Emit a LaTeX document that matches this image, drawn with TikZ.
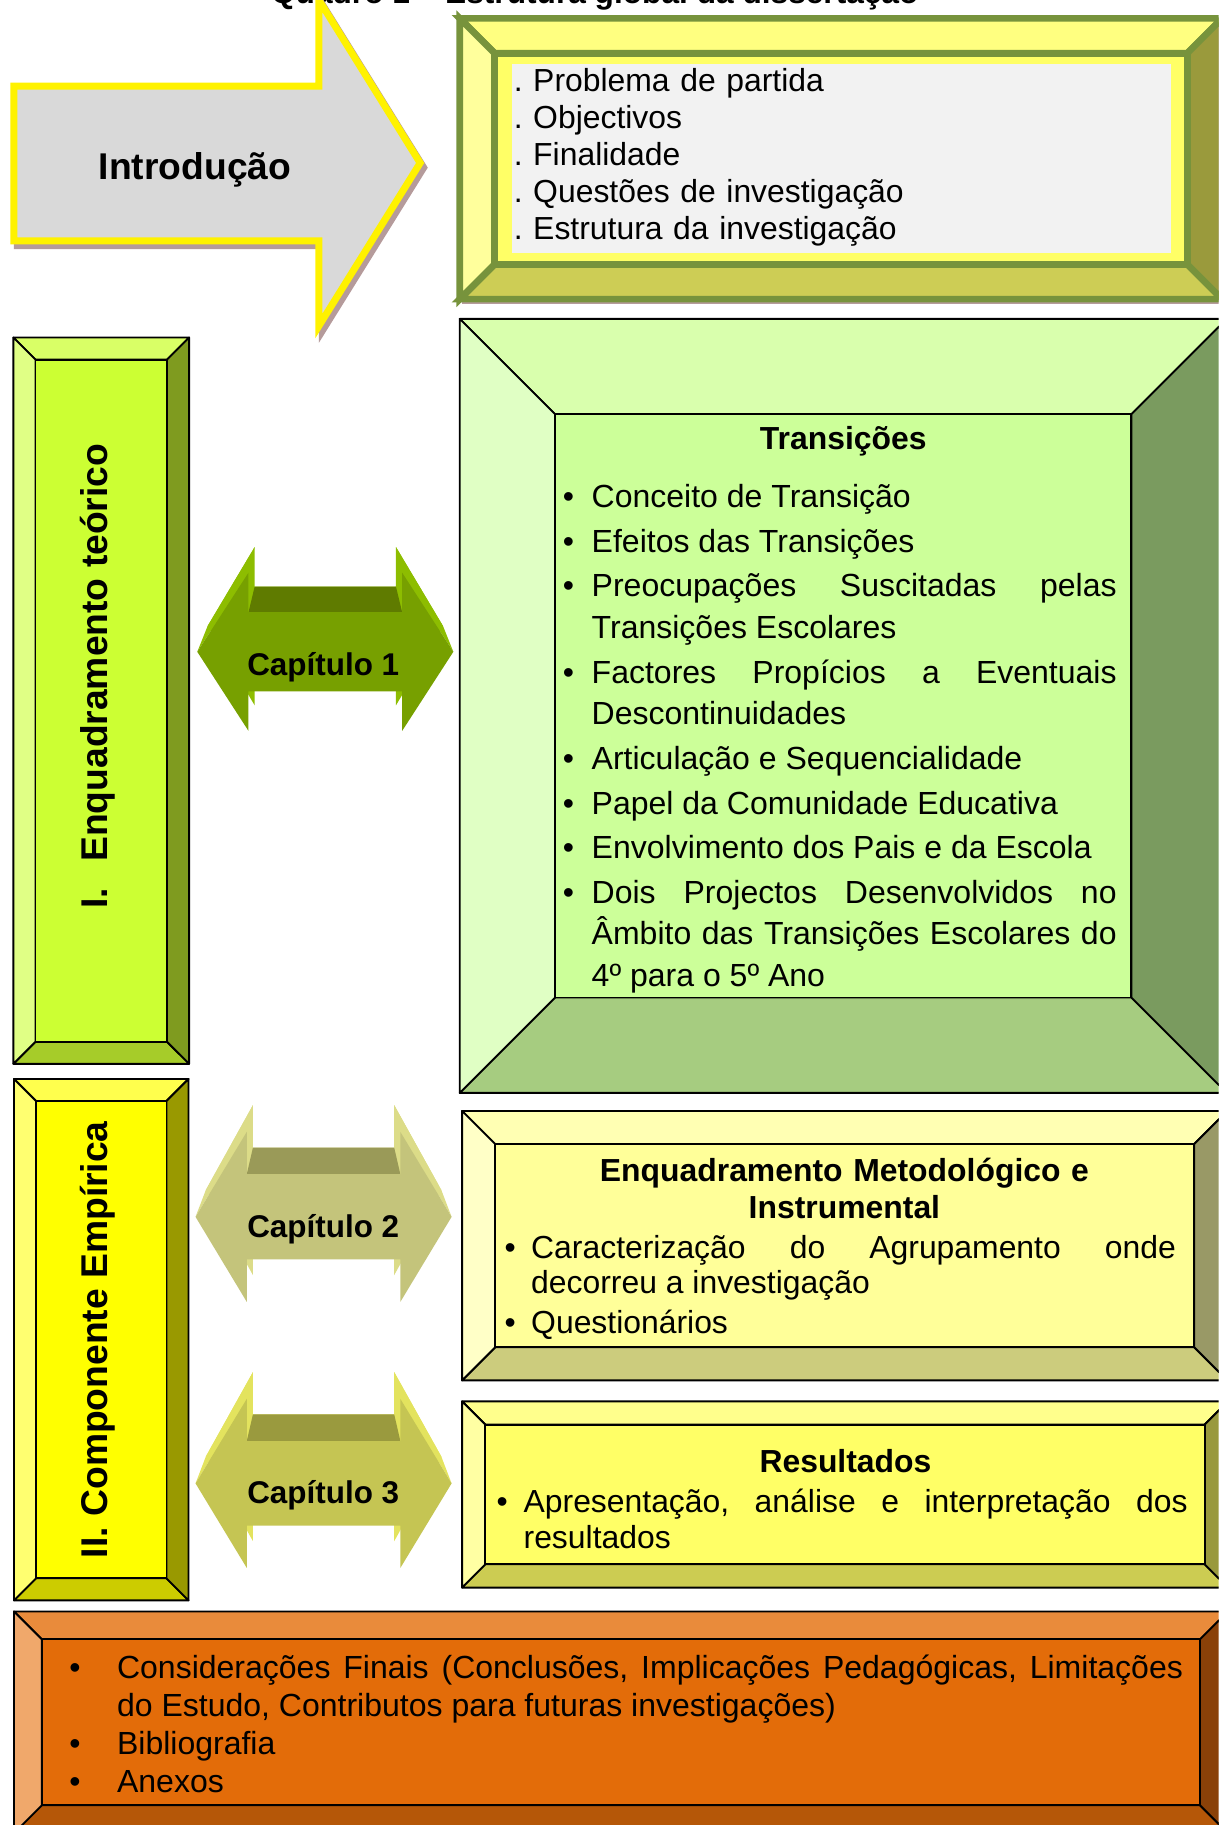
\documentclass[tikz,border=0pt]{standalone}
\usepackage{fontspec}
\setmainfont{Liberation Sans}
\hyphenpenalty=10000
\exhyphenpenalty=10000
\tolerance=9999
\frenchspacing

% frame colours (in, top, left, right, bot)
\definecolor{introin}{HTML}{FFFF66}
\definecolor{introtop}{HTML}{FFFF80}
\definecolor{introleft}{HTML}{FFFF9C}
\definecolor{introright}{HTML}{9A9A3C}
\definecolor{introbot}{HTML}{CDCD55}
\definecolor{introline}{HTML}{77933C}
\definecolor{introgray}{HTML}{F2F2F2}
\definecolor{teoin}{HTML}{CCFF33}
\definecolor{teotop}{HTML}{D9FF66}
\definecolor{teoleft}{HTML}{E0FF85}
\definecolor{teoright}{HTML}{7F9B1F}
\definecolor{teobot}{HTML}{A6CC29}
\definecolor{empin}{HTML}{FFFF00}
\definecolor{emptop}{HTML}{FFFF4D}
\definecolor{empleft}{HTML}{FFFF70}
\definecolor{empright}{HTML}{999900}
\definecolor{empbot}{HTML}{CCCC00}
\definecolor{tranin}{HTML}{CCFF99}
\definecolor{trantop}{HTML}{D9FFAD}
\definecolor{tranleft}{HTML}{E0FFC4}
\definecolor{tranright}{HTML}{7A9B5F}
\definecolor{tranbot}{HTML}{A6CC80}
\definecolor{metin}{HTML}{FFFF99}
\definecolor{mettop}{HTML}{FFFFB3}
\definecolor{metleft}{HTML}{FFFFC7}
\definecolor{metright}{HTML}{999966}
\definecolor{metbot}{HTML}{CCCC7D}
\definecolor{resin}{HTML}{FFFF66}
\definecolor{restop}{HTML}{FFFF8C}
\definecolor{resleft}{HTML}{FFFFA3}
\definecolor{resright}{HTML}{99993D}
\definecolor{resbot}{HTML}{CCCC52}
\definecolor{finin}{HTML}{E36C09}
\definecolor{fintop}{HTML}{E98B3B}
\definecolor{finleft}{HTML}{F0A86B}
\definecolor{finright}{HTML}{8A4108}
\definecolor{finbot}{HTML}{B55708}
% chapter arrows (front, dark, side)
\definecolor{caponefront}{HTML}{77A000}
\definecolor{caponedark}{HTML}{5F7B00}
\definecolor{caponeside}{HTML}{8DBD00}
\definecolor{captwofront}{HTML}{C4C47B}
\definecolor{captwodark}{HTML}{9A9A58}
\definecolor{captwoside}{HTML}{DCDC88}
\definecolor{capthreefront}{HTML}{C5C553}
\definecolor{capthreedark}{HTML}{9A9A3E}
\definecolor{capthreeside}{HTML}{E3E35E}
\definecolor{shadowbrown}{HTML}{B59B9B}
\definecolor{arrowgray}{HTML}{D9D9D9}

\tikzset{
  bevelline/.style={draw=black, line width=0.8pt, line join=round},
  introframe/.style={draw=introline, line width=2.85pt, line join=miter},
  introarrow/.style={draw=yellow, fill=arrowgray, line width=3pt, line join=miter},
  introshadow/.style={draw=shadowbrown, fill=shadowbrown, line width=3pt, line join=miter},
  partlabel/.style={rotate=90, anchor=base, inner sep=0pt, font=\fontsize{16pt}{19pt}\selectfont\bfseries},
  chaplabel/.style={anchor=base, inner sep=0pt, font=\fontsize{13.5pt}{16pt}\selectfont\bfseries},
  boxtitle/.style={anchor=base, inner sep=0pt, text width=300pt, align=center, font=\fontsize{13.7pt}{16pt}\selectfont\bfseries},
  boxlist/.style={anchor=base west, inner sep=0pt, align=justify},
}

% bevelled frame: colours, (x1,y1), (x2,y2), bevel
\newcommand{\bevelbox}[7][bevelline]{%
  \path[#1, fill=#2top] (#3,#4) -- (#5,#4) -- ({#5-#7},{#4+#7}) -- ({#3+#7},{#4+#7}) -- cycle;
  \path[#1, fill=#2bot] (#3,#6) -- (#5,#6) -- ({#5-#7},{#6-#7}) -- ({#3+#7},{#6-#7}) -- cycle;
  \path[#1, fill=#2left] (#3,#4) -- ({#3+#7},{#4+#7}) -- ({#3+#7},{#6-#7}) -- (#3,#6) -- cycle;
  \path[#1, fill=#2right] (#5,#4) -- ({#5-#7},{#4+#7}) -- ({#5-#7},{#6-#7}) -- (#5,#6) -- cycle;
  \path[#1, fill=#2in] ({#3+#7},{#4+#7}) rectangle ({#5-#7},{#6-#7});
}

% 3d double arrow: colours, (cx,cy), half shaft, depth
\newcommand{\chaparrow}[5]{%
  \fill[#1side] ({#2-101.2},{#3-#5}) -- ({#2-60.7},{#3-2*#4-#5}) -- ({#2-60.7},{#3-#4-#5})
    -- ({#2+60.7},{#3-#4-#5}) -- ({#2+60.7},{#3-2*#4-#5}) -- ({#2+101.2},{#3-#5})
    -- ({#2+60.7},{#3+2*#4-#5}) -- ({#2+60.7},{#3+#4-#5}) -- ({#2-60.7},{#3+#4-#5})
    -- ({#2-60.7},{#3+2*#4-#5}) -- cycle;
  \fill[#1side] ({#2-110},#3) -- ({#2-66},{#3-2*#4}) -- ({#2-60.7},{#3-2*#4-#5}) -- ({#2-101.2},{#3-#5}) -- cycle;
  \fill[#1side] ({#2+110},#3) -- ({#2+66},{#3-2*#4}) -- ({#2+60.7},{#3-2*#4-#5}) -- ({#2+101.2},{#3-#5}) -- cycle;
  \fill[#1dark] ({#2-66},{#3-#4}) -- ({#2+66},{#3-#4}) -- ({#2+60.7},{#3-#4-#5}) -- ({#2-60.7},{#3-#4-#5}) -- cycle;
  \fill[#1front] ({#2-110},#3) -- ({#2-66},{#3-2*#4}) -- ({#2-66},{#3-#4}) -- ({#2+66},{#3-#4})
    -- ({#2+66},{#3-2*#4}) -- ({#2+110},#3) -- ({#2+66},{#3+2*#4}) -- ({#2+66},{#3+#4})
    -- ({#2-66},{#3+#4}) -- ({#2-66},{#3+2*#4}) -- cycle;
}

\newcommand{\bul}[1]{\noindent\hangindent=#1\hangafter=1\makebox[#1][l]{\hspace{0.6pt}\textbullet}\ignorespaces}

\begin{document}
\begin{tikzpicture}[x=0.5pt, y=-0.5pt]
  \useasboundingbox (0,0) rectangle (1047,1568);
  \clip (0,0) rectangle (1047,1568);

  \node[anchor=base, inner sep=0pt, font=\fontsize{13.6pt}{16pt}\selectfont\bfseries] (quadro) at (511,3.4) {Quadro 1 – Estrutura global da dissertação};

  % Introducao
  \draw[introshadow, shift={(3,4)}] (12,74) -- (274,74) -- (274,0) -- (361,140) -- (274,280) -- (274,207) -- (12,207) -- cycle;
  \draw[introarrow] (12,74) -- (274,74) -- (274,0) -- (361,140) -- (274,280) -- (274,207) -- (12,207) -- cycle;
  \node[inner sep=0pt, anchor=base, font=\fontsize{16pt}{19pt}\selectfont\bfseries] (intro) at (167.5,154.6) {Introdução};

  \fill[shadowbrown] (397,20) rectangle (1060,261);
  \bevelbox[introframe]{intro}{395}{15.8}{1050}{257}{30}
  \fill[introgray] (439.5,55) rectangle (1006,217.6);
  \node[anchor=base west, inner sep=0pt, text width=300pt, align=left, font=\fontsize{13.7pt}{15.85pt}\selectfont] (introlist) at (441,78.7)
    {. Problema de partida\\. Objectivos\\. Finalidade\\. Questões de investigação\\. Estrutura da investigação};

  % parts
  \bevelbox{teo}{11.5}{290}{162.5}{914}{19}
  \node[partlabel] (teorico) at (92.2,580.9) {I.\hspace{0.7em}Enquadramento teórico};
  \bevelbox{emp}{12}{927}{162}{1375}{19}
  \node[partlabel] (empirica) at (92.2,1151) {II. Componente Empírica};

  % chapters
  \chaparrow{capone}{279.5}{560}{34}{22}
  \node[chaplabel] (cap1) at (277.7,580) {Capítulo 1};
  \chaparrow{captwo}{278}{1045.5}{36.5}{23}
  \node[chaplabel] (cap2) at (277.7,1063.5) {Capítulo 2};
  \chaparrow{capthree}{278}{1274.5}{36.3}{23}
  \node[chaplabel] (cap3) at (277.7,1292) {Capítulo 3};

  % Transicoes
  \bevelbox{tran}{395}{274}{1054}{939}{82}
  \node[boxtitle] (transicoes) at (724.5,386.6) {Transições};
  \node[boxlist, text width=238.5pt, font=\fontsize{13.75pt}{17.75pt}\selectfont] (temas) at (482,435.9)
    {\setlength{\parskip}{1.5pt}%
     \bul{13pt}Conceito de Transição\par
     \bul{13pt}Efeitos das Transições\par
     \bul{13pt}Preocupações Suscitadas pelas Transições Escolares\par
     \bul{13pt}Factores Propícios a Eventuais Descontinuidades\par
     \bul{13pt}Articulação e Sequencialidade\par
     \bul{13pt}Papel da Comunidade Educativa\par
     \bul{13pt}Envolvimento dos Pais e da Escola\par
     \bul{13pt}Dois Projectos Desenvolvidos no Âmbito das Transições Escolares do 4º para o 5º Ano\par};

  % Metodologia
  \bevelbox{met}{397}{954.5}{1054.5}{1186}{28.5}
  \node[boxtitle] (metodo) at (725.5,1014.7) {Enquadramento Metodológico e\\Instrumental};
  \node[boxlist, text width=289pt, font=\fontsize{13.7pt}{15.25pt}\selectfont] (inquerito) at (432,1081)
    {\setlength{\parskip}{1.9pt}%
     \bul{12pt}Caracterização do Agrupamento onde decorreu a investigação\par
     \bul{12pt}Questionários\par};

  % Resultados
  \bevelbox{res}{397}{1204}{1055}{1364}{20}
  \node[boxtitle] (resultados) at (726.4,1265.2) {Resultados};
  \node[boxlist, text width=297.5pt, font=\fontsize{13.7pt}{15.6pt}\selectfont] (analise) at (425,1299.4)
    {\bul{12.25pt}Apresentação, análise e interpretação dos resultados\par};

  % final
  \bevelbox{fin}{12}{1384.5}{1055}{1575}{24}
  \node[boxlist, text width=479pt, font=\fontsize{13.75pt}{16.3pt}\selectfont] (finais) at (58,1442.4)
    {\setlength{\parskip}{0pt}%
     \bul{21.1pt}Considerações Finais (Conclusões, Implicações Pedagógicas, Limitações do Estudo, Contributos para futuras investigações)\par
     \bul{21.1pt}Bibliografia\par
     \bul{21.1pt}Anexos\par};
\end{tikzpicture}
\end{document}
